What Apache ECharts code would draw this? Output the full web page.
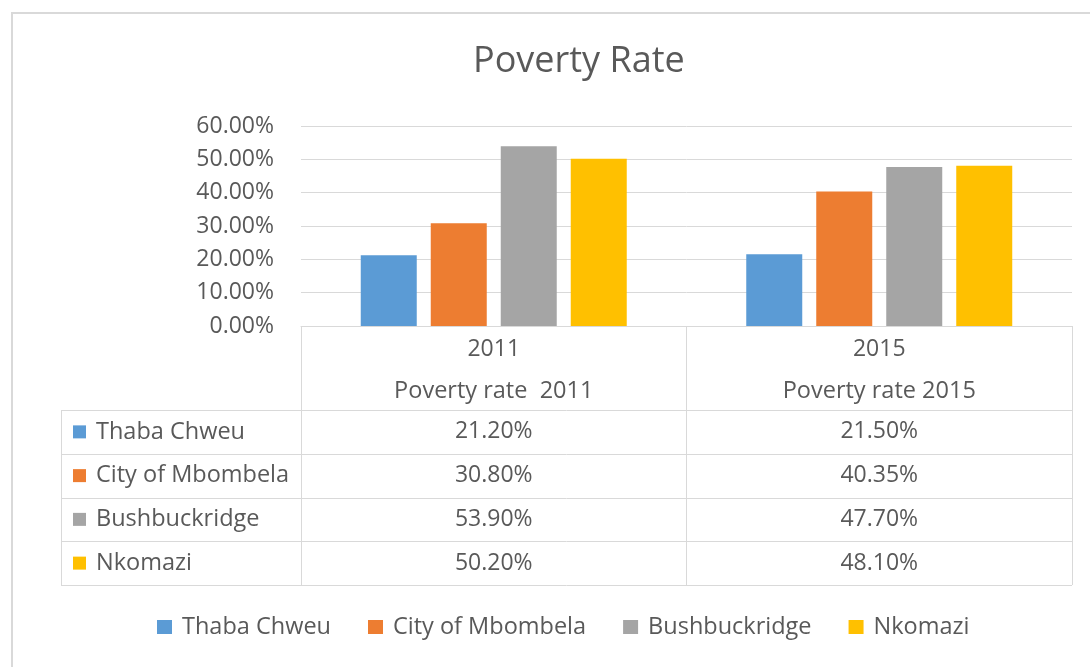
<!DOCTYPE html>
<html>
<head>
<meta charset="utf-8">
<script src="https://cdn.jsdelivr.net/npm/echarts@6/dist/echarts.min.js"></script>
<style>
  html, body { margin: 0; padding: 0; background: #fff; }
  #main { width: 1090px; height: 667px; }
</style>
</head>
<body>
<div id="main"></div>
<script>
// 数据
const categories = ['2011', '2015'];
const seriesHeaders = ['Poverty rate  2011', 'Poverty rate 2015'];
const regions = ['Thaba Chweu', 'City of Mbombela', 'Bushbuckridge', 'Nkomazi'];
const thabaChweu = [21.20, 21.50];
const cityOfMbombela = [30.80, 40.35];
const bushbuckridge = [53.90, 47.70];
const nkomazi = [50.20, 48.10];
const yTicks = [0, 10, 20, 30, 40, 50, 60];

const colors = ['#5B9BD5', '#ED7D31', '#A5A5A5', '#FFC000'];
const values = [thabaChweu, cityOfMbombela, bushbuckridge, nkomazi];
const font = 'Open Sans';
const textColor = '#595959';
const lineColor = '#D9D9D9';

const chart = echarts.init(document.getElementById('main'));
chart.setOption({
    animation: false,
    color: colors,
    title: {
        text: 'Poverty Rate',
        left: 468,
        top: 39,
        textStyle: { fontFamily: font, fontSize: 36, fontWeight: 'normal', color: textColor },
    },
    legend: {
        left: 157,
        top: 615,
        padding: 0,
        icon: 'rect',
        itemWidth: 15,
        itemHeight: 14,
        itemGap: 37,
        textStyle: { fontFamily: font, fontSize: 23.5, color: textColor, padding: [0, 0, 0, 5] },
        data: regions,
    },
    grid: { left: 301, right: 18, top: 126, bottom: 341 },
    xAxis: {
        type: 'category',
        data: categories,
        axisLine: { lineStyle: { color: lineColor } },
        axisTick: { show: true, length: 259, lineStyle: { color: lineColor } },
        axisLabel: {
            margin: 2,
            formatter: (v, i) => `{a|${v}}\n{b|${seriesHeaders[i]}}`,
            rich: {
                a: { fontFamily: font, fontSize: 23, color: textColor, lineHeight: 42 },
                b: { fontFamily: font, fontSize: 23.5, color: textColor, lineHeight: 42 },
            },
        },
    },
    yAxis: {
        type: 'value',
        min: yTicks[0],
        max: yTicks[yTicks.length - 1],
        interval: 10,
        axisLabel: {
            margin: 27,
            fontFamily: font,
            fontSize: 23,
            color: textColor,
            formatter: (v) => v.toFixed(2) + '%',
        },
        splitLine: { lineStyle: { color: lineColor } },
    },
    series: regions.map((name, i) => ({
        name: name,
        type: 'bar',
        data: values[i],
        barGap: '25%',
        barCategoryGap: '31%',
    })),
});

// 数据表格
function drawTable() {
    const c0 = chart.convertToPixel({ xAxisIndex: 0 }, categories[0]);
    const c1 = chart.convertToPixel({ xAxisIndex: 0 }, categories[1]);
    const band = c1 - c0;
    const xRight = c1 + band / 2;
    const yBase = chart.convertToPixel({ yAxisIndex: 0 }, 0);
    const headerH = 84;
    const rowH = 43.75;
    const tableLeft = 61;
    const g = [];
    // 外框
    g.push({
        type: 'rect',
        shape: { x: 12, y: 13, width: 1200, height: 800 },
        style: { fill: 'none', stroke: '#D9D9D9', lineWidth: 2 },
        silent: true,
    });
    for (let r = 0; r <= regions.length; r++) {
        const y = Math.round(yBase + headerH + r * rowH) + 0.5;
        g.push({
            type: 'line',
            shape: { x1: tableLeft, y1: y, x2: xRight, y2: y },
            style: { stroke: lineColor, lineWidth: 1 },
        });
    }
    g.push({
        type: 'line',
        shape: { x1: tableLeft + 0.5, y1: yBase + headerH, x2: tableLeft + 0.5, y2: yBase + headerH + regions.length * rowH },
        style: { stroke: lineColor, lineWidth: 1 },
    });
    regions.forEach((name, r) => {
        const yc = yBase + headerH + (r + 0.5) * rowH;
        g.push({
            type: 'rect',
            shape: { x: 73, y: yc - 6.5, width: 13, height: 13 },
            style: { fill: colors[r] },
        });
        g.push({
            type: 'text',
            x: 96,
            y: yc,
            style: { text: name, fontFamily: font, fontSize: 23.5, fill: textColor, verticalAlign: 'middle', align: 'left' },
        });
        categories.forEach((cat, k) => {
            g.push({
                type: 'text',
                x: chart.convertToPixel({ xAxisIndex: 0 }, cat),
                y: yc,
                style: { text: values[r][k].toFixed(2) + '%', fontFamily: font, fontSize: 23, fill: textColor, verticalAlign: 'middle', align: 'center' },
            });
        });
    });
    chart.setOption({ graphic: g });
}
drawTable();
</script>
</body>
</html>
